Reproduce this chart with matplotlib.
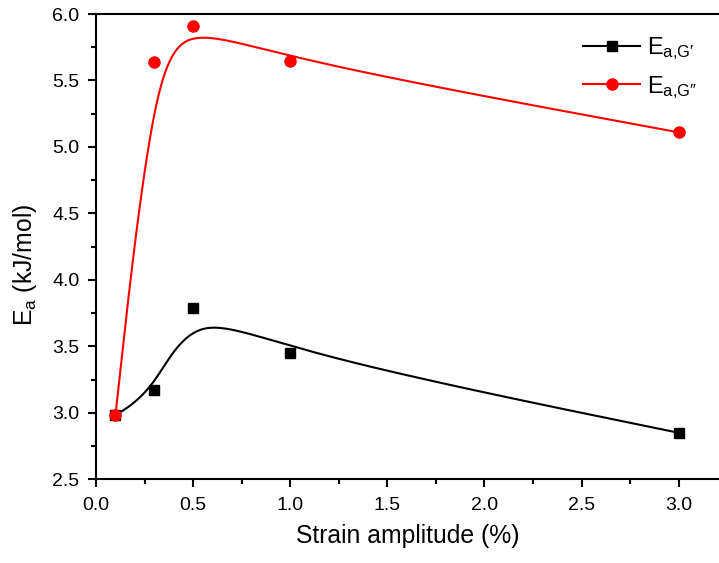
import numpy as np
import matplotlib
matplotlib.use("Agg")
import matplotlib.pyplot as plt
from matplotlib.ticker import MultipleLocator, FormatStrFormatter

strain = [0.1, 0.3, 0.5, 1.0, 3.0]
ea_gp = [2.98, 3.17, 3.79, 3.45, 2.85]
ea_gpp = [2.98, 5.64, 5.91, 5.65, 5.11]
labels = ["E$_{\\mathregular{a{,}G\u2032}}$", "E$_{\\mathregular{a{,}G\u2033}}$"]

plt.rcParams['font.family'] = ['Liberation Sans', 'DejaVu Sans']
plt.rcParams['mathtext.fontset'] = 'custom'
plt.rcParams['mathtext.rm'] = 'Liberation Sans'
plt.rcParams['mathtext.it'] = 'Liberation Sans:italic'


def bspline(px, py, n=60):
    """Uniform cubic B-spline using the data points as control points,
    with end points tripled so the curve starts/ends on them."""
    px = np.asarray(px, float)
    py = np.asarray(py, float)
    ex = np.concatenate([[px[0]] * 2, px, [px[-1]] * 2])
    ey = np.concatenate([[py[0]] * 2, py, [py[-1]] * 2])
    s = np.linspace(0, 1, n)
    b0 = (1 - s) ** 3 / 6
    b1 = (3 * s ** 3 - 6 * s ** 2 + 4) / 6
    b2 = (-3 * s ** 3 + 3 * s ** 2 + 3 * s + 1) / 6
    b3 = s ** 3 / 6
    xs, ys = [], []
    for i in range(len(ex) - 3):
        xs.append(b0 * ex[i] + b1 * ex[i + 1] + b2 * ex[i + 2] + b3 * ex[i + 3])
        ys.append(b0 * ey[i] + b1 * ey[i + 1] + b2 * ey[i + 2] + b3 * ey[i + 3])
    return np.concatenate(xs), np.concatenate(ys)


fig = plt.figure(figsize=(7.19, 5.63), dpi=100)
ax = fig.add_axes([96 / 719, 1 - 479.3 / 563, 623 / 719, (479.3 - 14) / 563])

for yv, col, mk, ms, lab in [(ea_gp, 'black', 's', 7.5, labels[0]),
                              (ea_gpp, 'red', 'o', 8, labels[1])]:
    cx, cy = bspline(strain, yv)
    ax.plot(cx, cy, color=col, lw=1.5)
    ax.plot(strain, yv, linestyle='none', marker=mk, ms=ms, color=col)
    ax.plot([], [], color=col, lw=1.5, marker=mk, ms=ms, label=lab)

ax.set_xlim(0, 623 / 194.2)
ax.set_ylim(2.5, 6.0)
ax.xaxis.set_major_locator(MultipleLocator(0.5))
ax.xaxis.set_minor_locator(MultipleLocator(0.25))
ax.yaxis.set_major_locator(MultipleLocator(0.5))
ax.yaxis.set_minor_locator(MultipleLocator(0.25))
ax.xaxis.set_major_formatter(FormatStrFormatter('%.1f'))
ax.yaxis.set_major_formatter(FormatStrFormatter('%.1f'))
ax.spines['right'].set_visible(False)
for s in ['left', 'top', 'bottom']:
    ax.spines[s].set_linewidth(1.5)
ax.tick_params(which='major', direction='out', length=6, width=1.5, labelsize=14)
ax.tick_params(which='minor', direction='out', length=3.5, width=1.5)
ax.tick_params(axis='x', which='major', pad=7)
ax.tick_params(axis='y', which='major', pad=6)
ax.tick_params(top=False, right=False)

ax.set_xlabel('Strain amplitude (%)', fontsize=17.8, labelpad=7)
ax.set_ylabel('E$_{\\mathregular{a}}$ (kJ/mol)', fontsize=17.8)
ax.yaxis.set_label_coords(-0.091, 0.46)

leg = ax.legend(loc='upper left', bbox_to_anchor=(562 / 719, 1 - 14 / 563),
                bbox_transform=fig.transFigure, frameon=False, fontsize=17,
                handlelength=2.4, handletextpad=0.3, labelspacing=0.5)

fig.savefig('out.png', dpi=100)
